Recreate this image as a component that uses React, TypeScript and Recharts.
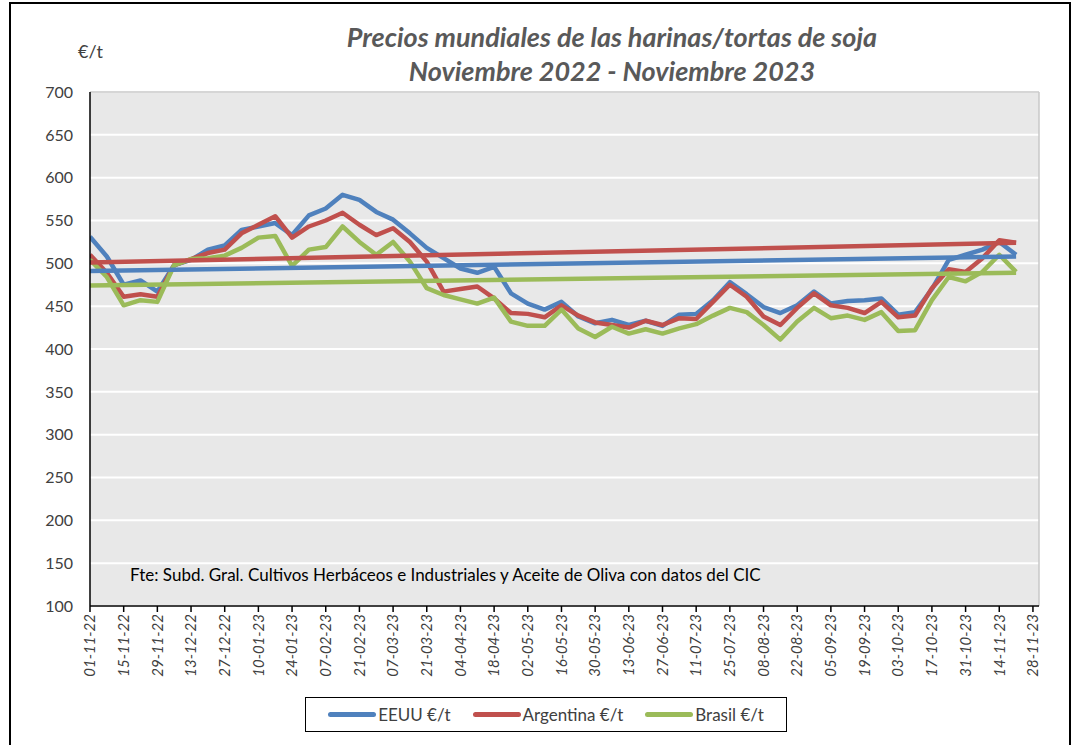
import React from "react"
import { LineChart, Line, XAxis, YAxis, CartesianGrid, ReferenceLine } from "recharts"

// weekly quotes, 01-11-22 .. 21-11-23
const weeks = [
  "01-11-22", "08-11-22", "15-11-22", "22-11-22", "29-11-22",
  "06-12-22", "13-12-22", "20-12-22", "27-12-22",
  "03-01-23", "10-01-23", "17-01-23", "24-01-23", "31-01-23",
  "07-02-23", "14-02-23", "21-02-23", "28-02-23",
  "07-03-23", "14-03-23", "21-03-23", "28-03-23",
  "04-04-23", "11-04-23", "18-04-23", "25-04-23",
  "02-05-23", "09-05-23", "16-05-23", "23-05-23", "30-05-23",
  "06-06-23", "13-06-23", "20-06-23", "27-06-23",
  "04-07-23", "11-07-23", "18-07-23", "25-07-23",
  "01-08-23", "08-08-23", "15-08-23", "22-08-23", "29-08-23",
  "05-09-23", "12-09-23", "19-09-23", "26-09-23",
  "03-10-23", "10-10-23", "17-10-23", "24-10-23", "31-10-23",
  "07-11-23", "14-11-23", "21-11-23",
]

const eeuu = [
  531, 508, 475, 480, 467, 498, 504, 516, 521, 539, 543, 547, 533, 556,
  564, 580, 574, 560, 551, 535, 518, 506, 494, 489, 496, 465, 453, 446,
  455, 438, 430, 434, 428, 433, 427, 440, 441, 457, 478, 464, 449, 442,
  451, 467, 453, 456, 457, 459, 440, 443, 470, 504, 510, 516, 525, 510,
]

const argentina = [
  510, 489, 461, 464, 461, 498, 505, 512, 516, 535, 545, 555, 530, 543,
  550, 559, 545, 533, 541, 525, 502, 467, 470, 473, 459, 442, 441, 437,
  451, 439, 431, 428, 425, 433, 428, 436, 435, 455, 475, 461, 438, 428,
  448, 465, 451, 448, 442, 455, 437, 439, 471, 493, 490, 506, 527, 524,
]

const brasil = [
  504, 484, 451, 457, 455, 498, 505, 506, 509, 518, 530, 532, 497, 516,
  519, 543, 525, 510, 525, 502, 471, 463, 458, 453, 460, 432, 427, 427,
  446, 424, 414, 426, 418, 423, 418, 424, 429, 439, 448, 443, 428, 411,
  432, 448, 436, 439, 434, 443, 421, 422, 457, 484, 479, 490, 510, 490,
]

// linear trend lines (start, end) as drawn in the sheet
const trendEeuu = [491, 508]
const trendArgentina = [501, 524]
const trendBrasil = [474, 489]

const xTickLabels = [
  "01-11-22", "15-11-22", "29-11-22", "13-12-22", "27-12-22", "10-01-23",
  "24-01-23", "07-02-23", "21-02-23", "07-03-23", "21-03-23", "04-04-23",
  "18-04-23", "02-05-23", "16-05-23", "30-05-23", "13-06-23", "27-06-23",
  "11-07-23", "25-07-23", "08-08-23", "22-08-23", "05-09-23", "19-09-23",
  "03-10-23", "17-10-23", "31-10-23", "14-11-23", "28-11-23",
]
const yTicks = [100, 150, 200, 250, 300, 350, 400, 450, 500, 550, 600, 650, 700]

const BLUE = "#4f81bd"
const RED = "#c0504d"
const GREEN = "#9bbb59"
const FONT = "Lato, 'Open Sans', sans-serif"

const last = weeks.length - 1
const data = weeks.map((w, i) => ({
  idx: i,
  week: w,
  eeuu: eeuu[i],
  argentina: argentina[i],
  brasil: brasil[i],
  tEeuu: i === 0 ? trendEeuu[0] : i === last ? trendEeuu[1] : null,
  tArgentina: i === 0 ? trendArgentina[0] : i === last ? trendArgentina[1] : null,
  tBrasil: i === 0 ? trendBrasil[0] : i === last ? trendBrasil[1] : null,
}))

const XTick = (props: any) => {
  const { x, y, payload } = props
  const label = xTickLabels[Math.round(payload.value / 2)]
  return (
    <text
      x={x}
      y={y}
      dy="0.35em"
      transform={`rotate(-90 ${x} ${y})`}
      textAnchor="end"
      fontSize={15}
      fontStyle="italic"
      fontFamily={FONT}
      fill="#404040"
    >
      {label}
    </text>
  )
}

const legendItems = [
  { name: "EEUU €/t", color: BLUE },
  { name: "Argentina €/t", color: RED },
  { name: "Brasil €/t", color: GREEN },
]

export default function App() {
  const lineProps = {
    type: "linear" as const,
    dot: false,
    activeDot: false,
    isAnimationActive: false,
    strokeWidth: 4.5,
    strokeLinejoin: "round" as const,
  }
  return (
    <div style={{ position: "absolute", left: 0, top: 0, width: 1072, height: 745, background: "#fff", fontFamily: FONT, overflow: "hidden" }}>
      <div style={{ position: "absolute", left: 9, top: 2, width: 1062, height: 760, border: "2px solid #000", boxSizing: "border-box" }} />

      <div style={{ position: "absolute", left: 262, top: 20, width: 700, textAlign: "center", color: "#595959", fontSize: 27, fontWeight: 700, fontStyle: "italic", lineHeight: "34px" }}>
        Precios mundiales de las harinas/tortas de soja
        <br />
        Noviembre 2022 - Noviembre 2023
      </div>
      <div style={{ position: "absolute", left: 78, top: 40, fontSize: 18, color: "#404040" }}>€/t</div>

      <div style={{ position: "absolute", left: 0, top: 0 }}>
        <LineChart width={1072} height={745} data={data} margin={{ top: 92, right: 33, bottom: 59, left: 0 }}>
          <CartesianGrid vertical={false} stroke="#ffffff" strokeWidth={2} fill="#e8e8e8" />
          <XAxis
            dataKey="idx"
            type="number"
            domain={[0, 56.36]}
            ticks={xTickLabels.map((_, i) => i * 2)}
            interval={0}
            height={80}
            tick={<XTick />}
            tickSize={6}
            tickMargin={2}
            axisLine={{ stroke: "#000", strokeWidth: 1.5 }}
            tickLine={{ stroke: "#000", strokeWidth: 1.5 }}
            allowDataOverflow
          />
          <YAxis
            type="number"
            domain={[100, 700]}
            ticks={yTicks}
            interval={0}
            width={90}
            tickSize={5}
            tickMargin={12}
            axisLine={{ stroke: "#000", strokeWidth: 1.5 }}
            tickLine={false}
            tick={{ fontSize: 16, fill: "#404040", fontFamily: FONT }}
          />
          <ReferenceLine y={700} stroke="#c8c8c8" strokeWidth={1.5} />
          <ReferenceLine x={56.36} stroke="#c8c8c8" strokeWidth={1.5} />

          <Line {...lineProps} dataKey="eeuu" stroke={BLUE} />
          <Line {...lineProps} dataKey="argentina" stroke={RED} />
          <Line {...lineProps} dataKey="brasil" stroke={GREEN} />
          <Line {...lineProps} dataKey="tEeuu" stroke={BLUE} connectNulls />
          <Line {...lineProps} dataKey="tArgentina" stroke={RED} connectNulls />
          <Line {...lineProps} dataKey="tBrasil" stroke={GREEN} connectNulls />
        </LineChart>
      </div>

      <div style={{ position: "absolute", left: 130, top: 564, fontSize: 17, color: "#000" }}>
        Fte: Subd. Gral. Cultivos Herbáceos e Industriales y Aceite de Oliva con datos del CIC
      </div>

      <div style={{ position: "absolute", left: 305, top: 697, width: 482, height: 35, border: "1.5px solid #000", boxSizing: "border-box", display: "flex", alignItems: "center", justifyContent: "center", gap: 22 }}>
        {legendItems.map((it) => (
          <div key={it.name} style={{ display: "flex", alignItems: "center" }}>
            <span style={{ display: "inline-block", width: 48, height: 4.5, borderRadius: 3, background: it.color, marginRight: 2 }} />
            <span style={{ fontSize: 17, color: "#404040" }}>{it.name}</span>
          </div>
        ))}
      </div>
    </div>
  )
}
